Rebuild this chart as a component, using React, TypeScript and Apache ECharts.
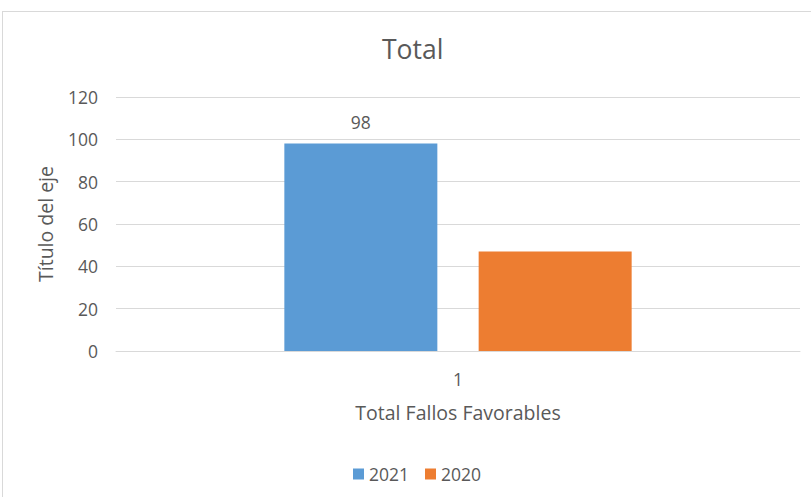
import React, { useEffect, useRef } from "react";
import * as echarts from "echarts";

const categories = ["1"];
const series2021 = [98];
const series2020 = [47];
const seriesNames = ["2021", "2020"];
const yTicks = { min: 0, max: 120, interval: 20 };

export default function App() {
  const ref = useRef<HTMLDivElement>(null);
  useEffect(() => {
    if (!ref.current) return;
    const chart = echarts.init(ref.current, null, { renderer: "svg" });
    const font = "'Open Sans', 'Segoe UI', sans-serif";
    const txt = "#595959";
    chart.setOption({
      animation: false,
      backgroundColor: "#ffffff",
      textStyle: { fontFamily: font },
      title: {
        text: "Total",
        left: 377,
        top: 30,
        textStyle: { fontFamily: font, fontSize: 26.5, fontWeight: "normal", color: txt },
      },
      graphic: [
        { type: "line", shape: { x1: 2, y1: 11.5, x2: 811, y2: 11.5 }, style: { stroke: "#d9d9d9", lineWidth: 1 } },
        { type: "line", shape: { x1: 2.5, y1: 11, x2: 2.5, y2: 497 }, style: { stroke: "#d9d9d9", lineWidth: 1 } },
      ],
      legend: {
        data: seriesNames,
        left: 348,
        top: 460,
        icon: "rect",
        itemWidth: 11,
        itemHeight: 11,
        itemGap: 16,
        textStyle: { fontFamily: font, fontSize: 17.5, color: txt },
      },
      grid: { left: 116, right: 11, top: 97, bottom: 146, containLabel: false },
      xAxis: {
        type: "category",
        data: categories,
        name: "Total Fallos Favorables",
        nameLocation: "middle",
        nameGap: 51,
        nameTextStyle: { fontFamily: font, fontSize: 19.5, color: txt },
        axisLine: { lineStyle: { color: "#d9d9d9" } },
        axisTick: { show: false },
        axisLabel: { margin: 19, fontFamily: font, fontSize: 17.5, color: txt },
      },
      yAxis: {
        type: "value",
        min: yTicks.min,
        max: yTicks.max,
        interval: yTicks.interval,
        name: "Título del eje",
        nameLocation: "middle",
        nameGap: 61,
        nameTextStyle: { fontFamily: font, fontSize: 19.5, color: txt },
        axisLine: { show: false },
        axisTick: { show: false },
        axisLabel: { margin: 18, fontFamily: font, fontSize: 17.5, color: txt },
        splitLine: { lineStyle: { color: "#d9d9d9" } },
      },
      series: [
        {
          name: seriesNames[0],
          type: "bar",
          data: series2021,
          barWidth: 153,
          barGap: "27%",
          itemStyle: { color: "#5B9BD5" },
          label: { show: true, position: "top", distance: 13, fontFamily: font, fontSize: 17.5, color: txt },
        },
        {
          name: seriesNames[1],
          type: "bar",
          data: series2020,
          barWidth: 153,
          barGap: "27%",
          itemStyle: { color: "#ED7D31" },
        },
      ],
    });
    return () => chart.dispose();
  }, []);
  return (
    <div
      ref={ref}
      style={{ position: "fixed", left: 0, top: 0, width: 811, height: 497 }}
    />
  );
}
